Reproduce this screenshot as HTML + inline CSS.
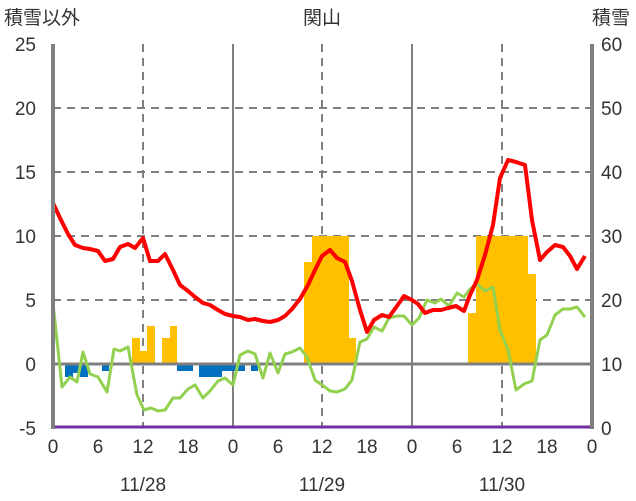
<!DOCTYPE html><html><head><style>body{margin:0;background:#fff}svg{display:block}text{font-family:"Liberation Sans","Noto Sans CJK JP",sans-serif;fill:#333}</style></head><body>
<svg width="636" height="501" viewBox="0 0 636 501">
<g stroke="#808080" stroke-width="2" stroke-dasharray="8,6">
<line x1="53" x2="592" y1="300" y2="300"/><line x1="53" x2="592" y1="236" y2="236"/><line x1="53" x2="592" y1="172" y2="172"/><line x1="53" x2="592" y1="108" y2="108"/>
<line x1="143" x2="143" y1="44" y2="428"/><line x1="322" x2="322" y1="44" y2="428"/><line x1="502" x2="502" y1="44" y2="428"/>
</g>
<g stroke="#808080" stroke-width="2"><line x1="233" x2="233" y1="44" y2="428"/><line x1="412" x2="412" y1="44" y2="428"/></g>
<g fill="#FFC000">
<rect x="132" y="338" width="8" height="26"/><rect x="140" y="351" width="7" height="13"/><rect x="147" y="326" width="8" height="38"/><rect x="162" y="338" width="8" height="26"/><rect x="170" y="326" width="7" height="38"/>
<rect x="304" y="262" width="8" height="102"/><rect x="312" y="236" width="37" height="128"/><rect x="349" y="338" width="7" height="26"/>
<rect x="468" y="313" width="8" height="51"/><rect x="476" y="236" width="52" height="128"/><rect x="528" y="274" width="8" height="90"/>
</g>
<g fill="#0070C0">
<rect x="65" y="364" width="8" height="13"/><rect x="73" y="364" width="7" height="9"/><rect x="80" y="364" width="8" height="13"/><rect x="102" y="364" width="7" height="7"/><rect x="177" y="364" width="16" height="7"/><rect x="199" y="364" width="23" height="13"/><rect x="222" y="364" width="23" height="7"/><rect x="251" y="364" width="7" height="7"/>
</g>
<line x1="53" x2="592" y1="364" y2="364" stroke="#808080" stroke-width="3"/>
<polyline fill="none" stroke="#92D050" stroke-width="3" stroke-linejoin="round" points="53,303 62,387 70,377 77,382 83,352 90,374 98,377 107,392 114,349 120,351 128,347 137,395 144,410 151,408 158,411 165,410 173,398 180,398 188,389 195,385 203,398 210,391 218,381 225,378 233,385 240,355 248,351 255,354 263,378 270,353 278,373 285,354 292,352 300,348 307,357 315,380 322,385 330,391 337,392 345,389 352,380 360,342 367,339 374,327 382,331 389,318 397,316 404,316 412,325 419,318 427,300 435,303 441,299 449,306 457,293 464,297 470,289 477,284 485,291 493,287 500,330 508,350 516,390 524,384 532,381 540,340 547,335 555,315 563,309 570,309 577,307 585,317"/>
<polyline fill="none" stroke="#FF0000" stroke-width="4" stroke-linejoin="round" points="53,203 60,218 68,234 75,245 83,248 90,249 98,251 105,261 113,259 120,247 128,244 135,248 143,238 150,261 158,261 165,254 173,270 180,285 188,291 195,297 203,303 210,305 218,310 225,314 233,316 240,317 248,320 255,319 263,321 270,322 278,320 285,316 292,309 300,299 308,285 315,270 322,256 330,250 337,258 345,262 352,281 360,310 367,332 374,320 382,315 389,317 397,306 404,296 412,300 418,304 425,313 433,310 441,310 448,308 456,306 464,311 470,295 477,280 485,255 493,225 500,178 508,160 516,162 525,165 532,220 540,260 547,252 555,245 563,247 570,256 577,269 585,256"/>
<line x1="53" x2="592" y1="427" y2="427" stroke="#7030A0" stroke-width="3"/>
<g stroke="#808080" stroke-width="4"><line x1="53" x2="53" y1="44" y2="429"/><line x1="592" x2="592" y1="44" y2="429"/></g>
<g font-size="19" text-anchor="end">
<text x="36" y="51">25</text><text x="36" y="115">20</text><text x="36" y="179">15</text><text x="36" y="243">10</text><text x="36" y="307">5</text><text x="36" y="371">0</text><text x="36" y="435">-5</text></g>
<g font-size="19" text-anchor="start">
<text x="601" y="51">60</text><text x="601" y="115">50</text><text x="601" y="179">40</text><text x="601" y="243">30</text><text x="601" y="307">20</text><text x="601" y="371">10</text><text x="601" y="435">0</text></g>
<g font-size="19" text-anchor="middle">
<text x="53" y="453">0</text><text x="98" y="453">6</text><text x="143" y="453">12</text><text x="188" y="453">18</text><text x="233" y="453">0</text><text x="278" y="453">6</text><text x="322" y="453">12</text><text x="367" y="453">18</text><text x="412" y="453">0</text><text x="457" y="453">6</text><text x="502" y="453">12</text><text x="547" y="453">18</text><text x="592" y="453">0</text>
<text x="143" y="491">11/28</text><text x="322" y="491">11/29</text><text x="502" y="491">11/30</text>
<text x="322" y="24">関山</text></g>
<text x="4" y="24" font-size="19">積雪以外</text>
<text x="592" y="24" font-size="19">積雪</text>
</svg></body></html>
